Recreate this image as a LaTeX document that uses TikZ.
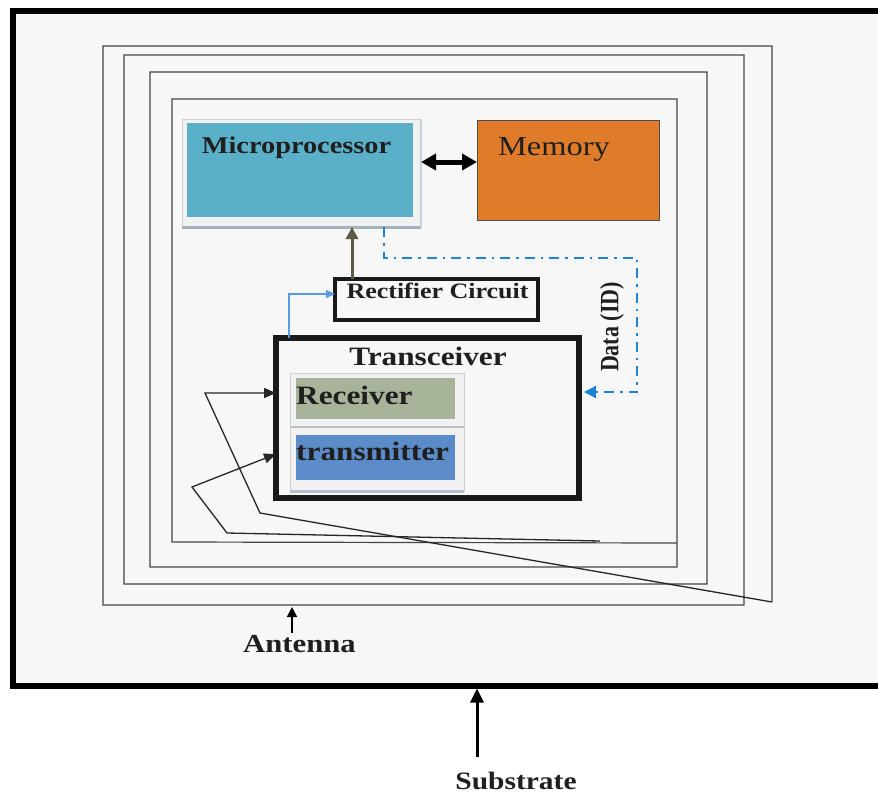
\documentclass[tikz,border=0pt]{standalone}
\usepackage{fontspec}
\setmainfont{Liberation Serif}
\newfontfamily\wide[FakeStretch=1.18]{Liberation Serif}
\usetikzlibrary{arrows.meta}

\definecolor{subfill}{HTML}{F7F7F7}
\definecolor{cpublue}{HTML}{5BB0C9}
\definecolor{memorange}{HTML}{E07B29}
\definecolor{rxgreen}{HTML}{A8B49A}
\definecolor{txblue}{HTML}{5B8CC9}
\definecolor{framefill}{HTML}{F1F1F1}
\definecolor{frameedge}{HTML}{CDD2D6}
\definecolor{shadowedge}{HTML}{9FB2BE}
\definecolor{linkblue}{HTML}{5A9BE0}
\definecolor{datablue}{HTML}{1E82D6}
\definecolor{powerbrown}{HTML}{5F5A44}
\definecolor{coil}{HTML}{454545}

\tikzset{
  box/.style={rectangle, inner sep=0pt, outer sep=0pt},
  heavybox/.style={box, draw=black!90, fill=subfill},
  lbl/.style={inner sep=0pt, text=black!88},
  coilline/.style={draw=coil, line width=1.2pt, line join=miter},
  lead/.style={draw=black!85, line width=1.3pt, -{Triangle[length=12pt,width=10pt]}},
}

\begin{document}
\begin{tikzpicture}[x=1pt,y=-1pt]
\useasboundingbox (0,0) rectangle (878,796);
\clip (0,0) rectangle (878,796);
\fill[white] (0,0) rectangle (878,796);

% substrate sheet (runs past the right edge)
\node[box, draw=black, fill=subfill, line width=5.5pt,
      minimum width=890pt, minimum height=675pt] (substrate) at (458,348.5) {};

% antenna coil: one continuous spiral, outer end to inner end
\draw[coilline]
  (772,602) -- (772,46) -- (103,46) -- (103,605) -- (744,605)
  -- (744,55) -- (124,55) -- (124,584) -- (707,584)
  -- (707,72) -- (150,72) -- (150,567) -- (677,567)
  -- (677,99) -- (172,99) -- (172,542) -- (677,543);

% microprocessor with its light frame
\node[box, fill=framefill, draw=frameedge, line width=0.8pt,
      minimum width=239pt, minimum height=108pt] (mpframe) at (301.5,173) {};
\draw[shadowedge, line width=3pt] (mpframe.south west) -- (mpframe.south east);
\draw[shadowedge!60, line width=1.5pt] (mpframe.north east) -- (mpframe.south east);
\node[box, fill=cpublue, minimum width=226pt, minimum height=94pt] (cpu) at (300,170) {};
\node[lbl, anchor=base, font=\wide\bfseries\fontsize{24}{24}\selectfont] (cputext) at (296.5,153) {Microprocessor};

% memory
\node[box, fill=memorange, draw=black!70, line width=0.8pt,
      minimum width=182pt, minimum height=100pt] (mem) at (568,170) {};
\node[lbl, anchor=base, font=\wide\fontsize{27.5}{28}\selectfont] (memtext) at (554,155) {Memory};

% rectifier
\node[heavybox, line width=4pt, minimum width=203pt, minimum height=41pt] (rect) at (436.5,299.5) {};
\node[lbl, anchor=base, font=\wide\bfseries\fontsize{22}{22}\selectfont] (recttext) at (437.5,298) {Rectifier Circuit};

% transceiver
\node[heavybox, line width=5.5pt, minimum width=303pt, minimum height=160pt] (trans) at (427.5,418) {};
\node[lbl, anchor=base, font=\wide\bfseries\fontsize{26.5}{27}\selectfont] (transtext) at (428,365) {Transceiver};

% receiver and transmitter blocks
\node[box, fill=framefill, draw=frameedge, line width=0.8pt,
      minimum width=174pt, minimum height=118pt] (rxtx) at (377,432) {};
\draw[shadowedge!80, line width=3pt] (rxtx.south west) -- (rxtx.south east);
\draw[black!25, line width=1.5pt] (rxtx.west |- 0,427) -- (rxtx.east |- 0,427);
\node[box, fill=rxgreen, minimum width=159pt, minimum height=41pt] (rx) at (375.5,398.5) {};
\node[box, fill=txblue, minimum width=159pt, minimum height=45pt] (tx) at (375.5,457.5) {};
\node[lbl, anchor=base west, font=\wide\bfseries\fontsize{26.5}{27}\selectfont] (rxtext) at (296,404) {Receiver};
\node[lbl, anchor=base west, font=\wide\bfseries\fontsize{26.5}{27}\selectfont] (txtext) at (296,460) {transmitter};

% data path and its label
\node[lbl, rotate=90, font=\bfseries\fontsize{22}{22}\selectfont] (datatext) at (612,327)
  {\scalebox{1}[1.2]{Data (ID)}};

% connectors between blocks
\draw[black, line width=5pt, {Triangle[length=15pt,width=16pt]}-{Triangle[length=15pt,width=16pt]}]
  (mpframe.east |- 0,162) -- (mem.west |- 0,162);
\draw[powerbrown, line width=3pt, -{Triangle[length=12pt,width=12pt]}]
  (rect.north -| 352,0) -- (mpframe.south -| 352,0);
\draw[linkblue, line width=1.3pt, -{Triangle[length=9pt,width=8pt]}]
  (trans.north -| 289,0) -- (289,294) -- (rect.west |- 0,294);
\draw[datablue, line width=2.4pt, dash pattern=on 10pt off 6pt on 2.5pt off 6pt,
      -{Triangle[length=12pt,width=12pt]}, shorten >=5pt]
  (mpframe.south -| 384,0) -- (384,258) -- (637,258) -- (637,392) -- (trans.east |- 0,392);

% antenna leads into the transceiver
\draw[lead] (772,602) -- (260,513) -- (205,393) -- (trans.west |- 0,393);
\draw[lead] (600,541) -- (227,533) -- (192,487) -- (trans.west |- 0,454);

% callouts
\coordinate (anttail) at (292,633);
\coordinate (anthead) at (292,607);
\draw[black, line width=1.6pt, -{Triangle[length=10pt,width=10pt]}] (anttail) -- (anthead);
\node[lbl, anchor=base, font=\wide\bfseries\fontsize{26}{26}\selectfont] (anttext) at (299.5,652) {Antenna};

\coordinate (subtail) at (477,757);
\draw[black, line width=3pt, -{Triangle[length=14pt,width=13pt]}, shorten >=2.5pt]
  (subtail) -- (substrate.south -| 477,0);
\node[lbl, anchor=base, font=\wide\bfseries\fontsize{25}{25}\selectfont] (subtext) at (516,789) {Substrate};
\end{tikzpicture}
\end{document}
